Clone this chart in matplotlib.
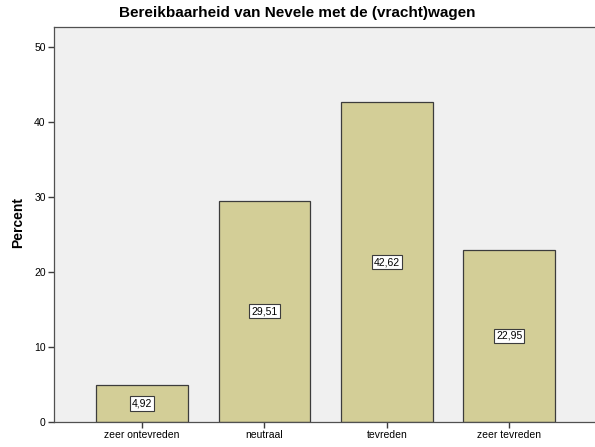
import matplotlib.pyplot as plt

categories = ['zeer ontevreden', 'neutraal', 'tevreden', 'zeer tevreden']
percent = [4.92, 29.51, 42.62, 22.95]
yticks = [0, 10, 20, 30, 40, 50]

plt.rcParams['font.family'] = ['Liberation Sans', 'DejaVu Sans']

fig = plt.figure(figsize=(5.95, 4.47), dpi=100)
ax = fig.add_axes([54 / 595, 25 / 447, 542 / 595, 395 / 447])
ax.set_facecolor('#f0f0f0')

x = range(len(categories))
ax.bar(x, percent, width=0.75, color='#d3ce97', edgecolor='#3c3c3c', linewidth=0.9, zorder=2)

for xi, v in zip(x, percent):
    ax.text(xi, v / 2, f'{v:.2f}'.replace('.', ','), ha='center', va='center', fontsize=7.5,
            bbox=dict(boxstyle='square,pad=0.2', facecolor='white', edgecolor='#3c3c3c', linewidth=0.8),
            zorder=3)

ax.set_xlim(-0.72, 3.71)
ax.set_ylim(0, 52.67)
ax.set_xticks(list(x))
ax.set_xticklabels(categories, fontsize=7.5)
ax.set_yticks(yticks)
ax.set_yticklabels([str(t) for t in yticks], fontsize=7.5)
ax.tick_params(axis='both', direction='out', length=4, width=1, color='#3c3c3c', pad=2)

for side in ['top', 'right', 'left', 'bottom']:
    ax.spines[side].set_color('#505050')
    ax.spines[side].set_linewidth(0.9)
ax.spines['right'].set_visible(False)

fig.text(18 / 595, 1 - 223 / 447, 'Percent', rotation=90, ha='center', va='center',
         fontsize=10, fontweight='bold')
fig.text(0.5, 1 - 13 / 447, 'Bereikbaarheid van Nevele met de (vracht)wagen',
         ha='center', va='center', fontsize=11, fontweight='bold')

fig.savefig('out.png', dpi=100, facecolor='white')
